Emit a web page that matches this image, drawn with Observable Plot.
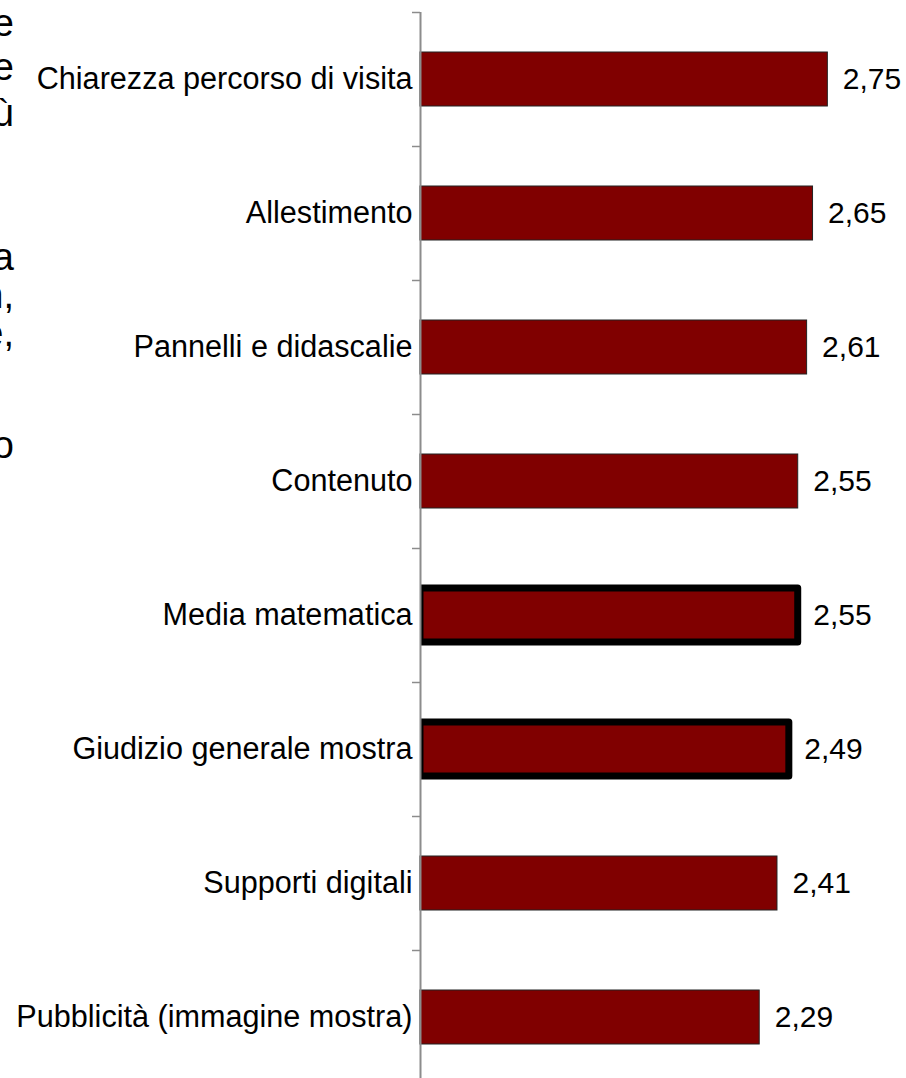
<!DOCTYPE html>
<html>
<head>
<meta charset="utf-8">
<script src="https://cdn.jsdelivr.net/npm/d3@7"></script>
<script src="https://cdn.jsdelivr.net/npm/@observablehq/plot@0.6"></script>
<style>
  html, body { margin: 0; padding: 0; background: #fff; }
  #wrap { position: relative; width: 906px; height: 1078px; overflow: hidden; font-family: "Liberation Sans", Arial, sans-serif; }
  #chart { position: absolute; left: 0; top: 0; }
  .frag { position: absolute; right: 892px; font-size: 38px; line-height: 1; color: #000; white-space: nowrap; }
</style>
</head>
<body>
<div id="wrap">
  <div id="chart"></div>
</div>
<script>
// Data
const categories = [
  "Chiarezza percorso di visita",
  "Allestimento",
  "Pannelli e didascalie",
  "Contenuto",
  "Media matematica",
  "Giudizio generale mostra",
  "Supporti digitali",
  "Pubblicità (immagine mostra)"
];
const values = [2.75, 2.65, 2.61, 2.55, 2.55, 2.49, 2.41, 2.29];
const highlighted = [false, false, false, false, true, true, false, false];

// Cut-off paragraph fragments at the left edge of the slide
const fragments = ["e", "e", "ù", "a", "n,", "e,", "o"];
const fragmentBaselines = [38, 82, 128, 272, 310, 348, 460];

const data = categories.map((c, i) => ({category: c, value: values[i], hl: highlighted[i]}));
const fmt = v => v.toFixed(2).replace(".", ",");

const wrap = document.getElementById("wrap");
fragments.forEach((t, i) => {
  const s = document.createElement("span");
  s.className = "frag";
  s.textContent = t;
  s.style.top = (fragmentBaselines[i] - 38 * 0.905) + "px";
  wrap.appendChild(s);
});

const chart = Plot.plot({
  width: 906,
  height: 1090,
  marginLeft: 420,
  marginRight: 12,
  marginTop: 12,
  marginBottom: 6,
  style: {fontFamily: "'Liberation Sans', Arial, sans-serif", fontSize: "30px", color: "#000", background: "#fff"},
  x: {domain: [0, 3.2], axis: null},
  y: {domain: categories, paddingInner: 0.6, paddingOuter: 0.3, label: null},
  marks: [
    Plot.barX(data.filter(d => !d.hl), {x: "value", y: "category", fill: "#800000", stroke: "#222", strokeWidth: 1}),
    Plot.barX(data.filter(d => d.hl), {x: "value", y: "category", fill: "#800000", stroke: "#000", strokeWidth: 7, strokeLinejoin: "round", clip: true}),
    Plot.ruleX([0], {stroke: "#8c8c8c", strokeWidth: 2}),
    Plot.axisY({tickSize: 8, fill: "none", stroke: "#8c8c8c", strokeWidth: 1.5, dy: -67, label: null}),
    Plot.axisY({tickSize: 0, tickPadding: 8, fontSize: 30.6, fill: "#000", label: null}),
    Plot.text(data, {x: "value", y: "category", text: d => fmt(d.value), textAnchor: "start", dx: 15, fontSize: 30, fill: "#000"})
  ]
});
document.getElementById("chart").appendChild(chart);
</script>
</body>
</html>
